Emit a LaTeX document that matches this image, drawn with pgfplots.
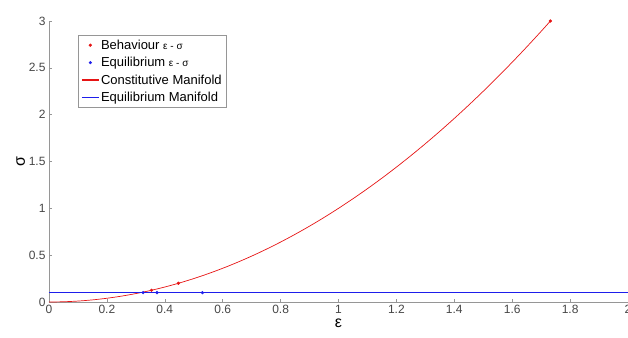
\documentclass[border=0pt]{standalone}
\usepackage{pgfplots}
\pgfplotsset{compat=1.18}
\usepackage{fontspec}
\setmainfont{Liberation Sans}
\definecolor{axgray}{RGB}{150,150,150}
\definecolor{txtgray}{RGB}{70,70,70}
\definecolor{mred}{RGB}{230,20,20}
\definecolor{mblue}{RGB}{30,30,235}
\begin{document}
\begin{tikzpicture}
\begin{axis}[
  name=ax,
  scale only axis,
  width=579pt, height=281pt,
  xmin=0, xmax=2, ymin=0, ymax=3,
  axis lines*=left,
  axis line style={axgray, line width=0.8pt},
  tick style={axgray, line width=0.6pt},
  tick align=inside,
  major tick length=3pt,
  xtick={0,0.2,...,2.0},
  xticklabels={0,0.2,0.4,0.6,0.8,1,1.2,1.4,1.6,1.8,2},
  ytick={0,0.5,1,1.5,2,2.5,3},
  yticklabels={0,0.5,1,1.5,2,2.5,3},
  ticklabel style={font=\fontsize{12}{13}\selectfont, text=txtgray},
  xlabel={\fontsize{16}{17}\selectfont ε},
  ylabel={\fontsize{16}{17}\selectfont σ},
  xlabel style={yshift=2pt},
  ylabel style={yshift=-3pt},
  legend style={at={(0.05,0.95)}, anchor=north west, draw=axgray,
    nodes={font=\fontsize{13}{15}\selectfont, inner sep=1.5pt}, row sep=3.5pt, inner sep=3pt},
  legend cell align=left,
  clip=false,
]
\addlegendimage{only marks, mark=*, mark size=1.4pt, color=mred}
\addlegendentry{Behaviour {\fontsize{10}{11}\selectfont ε - σ}}
\addlegendimage{only marks, mark=*, mark size=1.4pt, color=mblue}
\addlegendentry{Equilibrium {\fontsize{10}{11}\selectfont ε - σ}}
\addlegendimage{draw=mred, color=mred, line width=1.3pt}
\addlegendentry{Constitutive Manifold}
\addlegendimage{draw=mblue, color=mblue, line width=1.3pt}
\addlegendentry{Equilibrium Manifold}
\addplot[forget plot, color=mred, line width=0.7pt, smooth] coordinates {
(0,0) (0.05,0.0025) (0.1,0.01) (0.15,0.0225) (0.2,0.04) (0.25,0.0625) (0.3,0.09) (0.35,0.1225) (0.4,0.16) (0.45,0.2025) (0.5,0.25) (0.55,0.3025) (0.6,0.36) (0.65,0.4225) (0.7,0.49) (0.75,0.5625) (0.8,0.64) (0.85,0.7225) (0.9,0.81) (0.95,0.9025) (1.0,1.0) (1.05,1.1025) (1.1,1.21) (1.15,1.3225) (1.2,1.44) (1.25,1.5625) (1.3,1.69) (1.35,1.8225) (1.4,1.96) (1.45,2.1025) (1.5,2.25) (1.55,2.4025) (1.6,2.56) (1.65,2.7225) (1.7,2.89) (1.732,3.0)};
\addplot[forget plot, color=mblue, line width=0.7pt] coordinates {(0,0.1) (2,0.1)};
\addplot[forget plot, only marks, mark=*, mark size=1.4pt, color=mred] coordinates {(0.354,0.125) (0.447,0.2) (1.732,3.0)};
\addplot[forget plot, only marks, mark=*, mark size=1.4pt, color=mblue] coordinates {(0.325,0.1) (0.373,0.1) (0.53,0.1)};
\end{axis}
\path (ax.south west) ++(-49pt,-35pt) coordinate (bbA);
\path (ax.north east) ++(0pt,21pt) coordinate (bbB);
\pgfresetboundingbox
\useasboundingbox (bbA) rectangle (bbB);
\end{tikzpicture}
\end{document}
